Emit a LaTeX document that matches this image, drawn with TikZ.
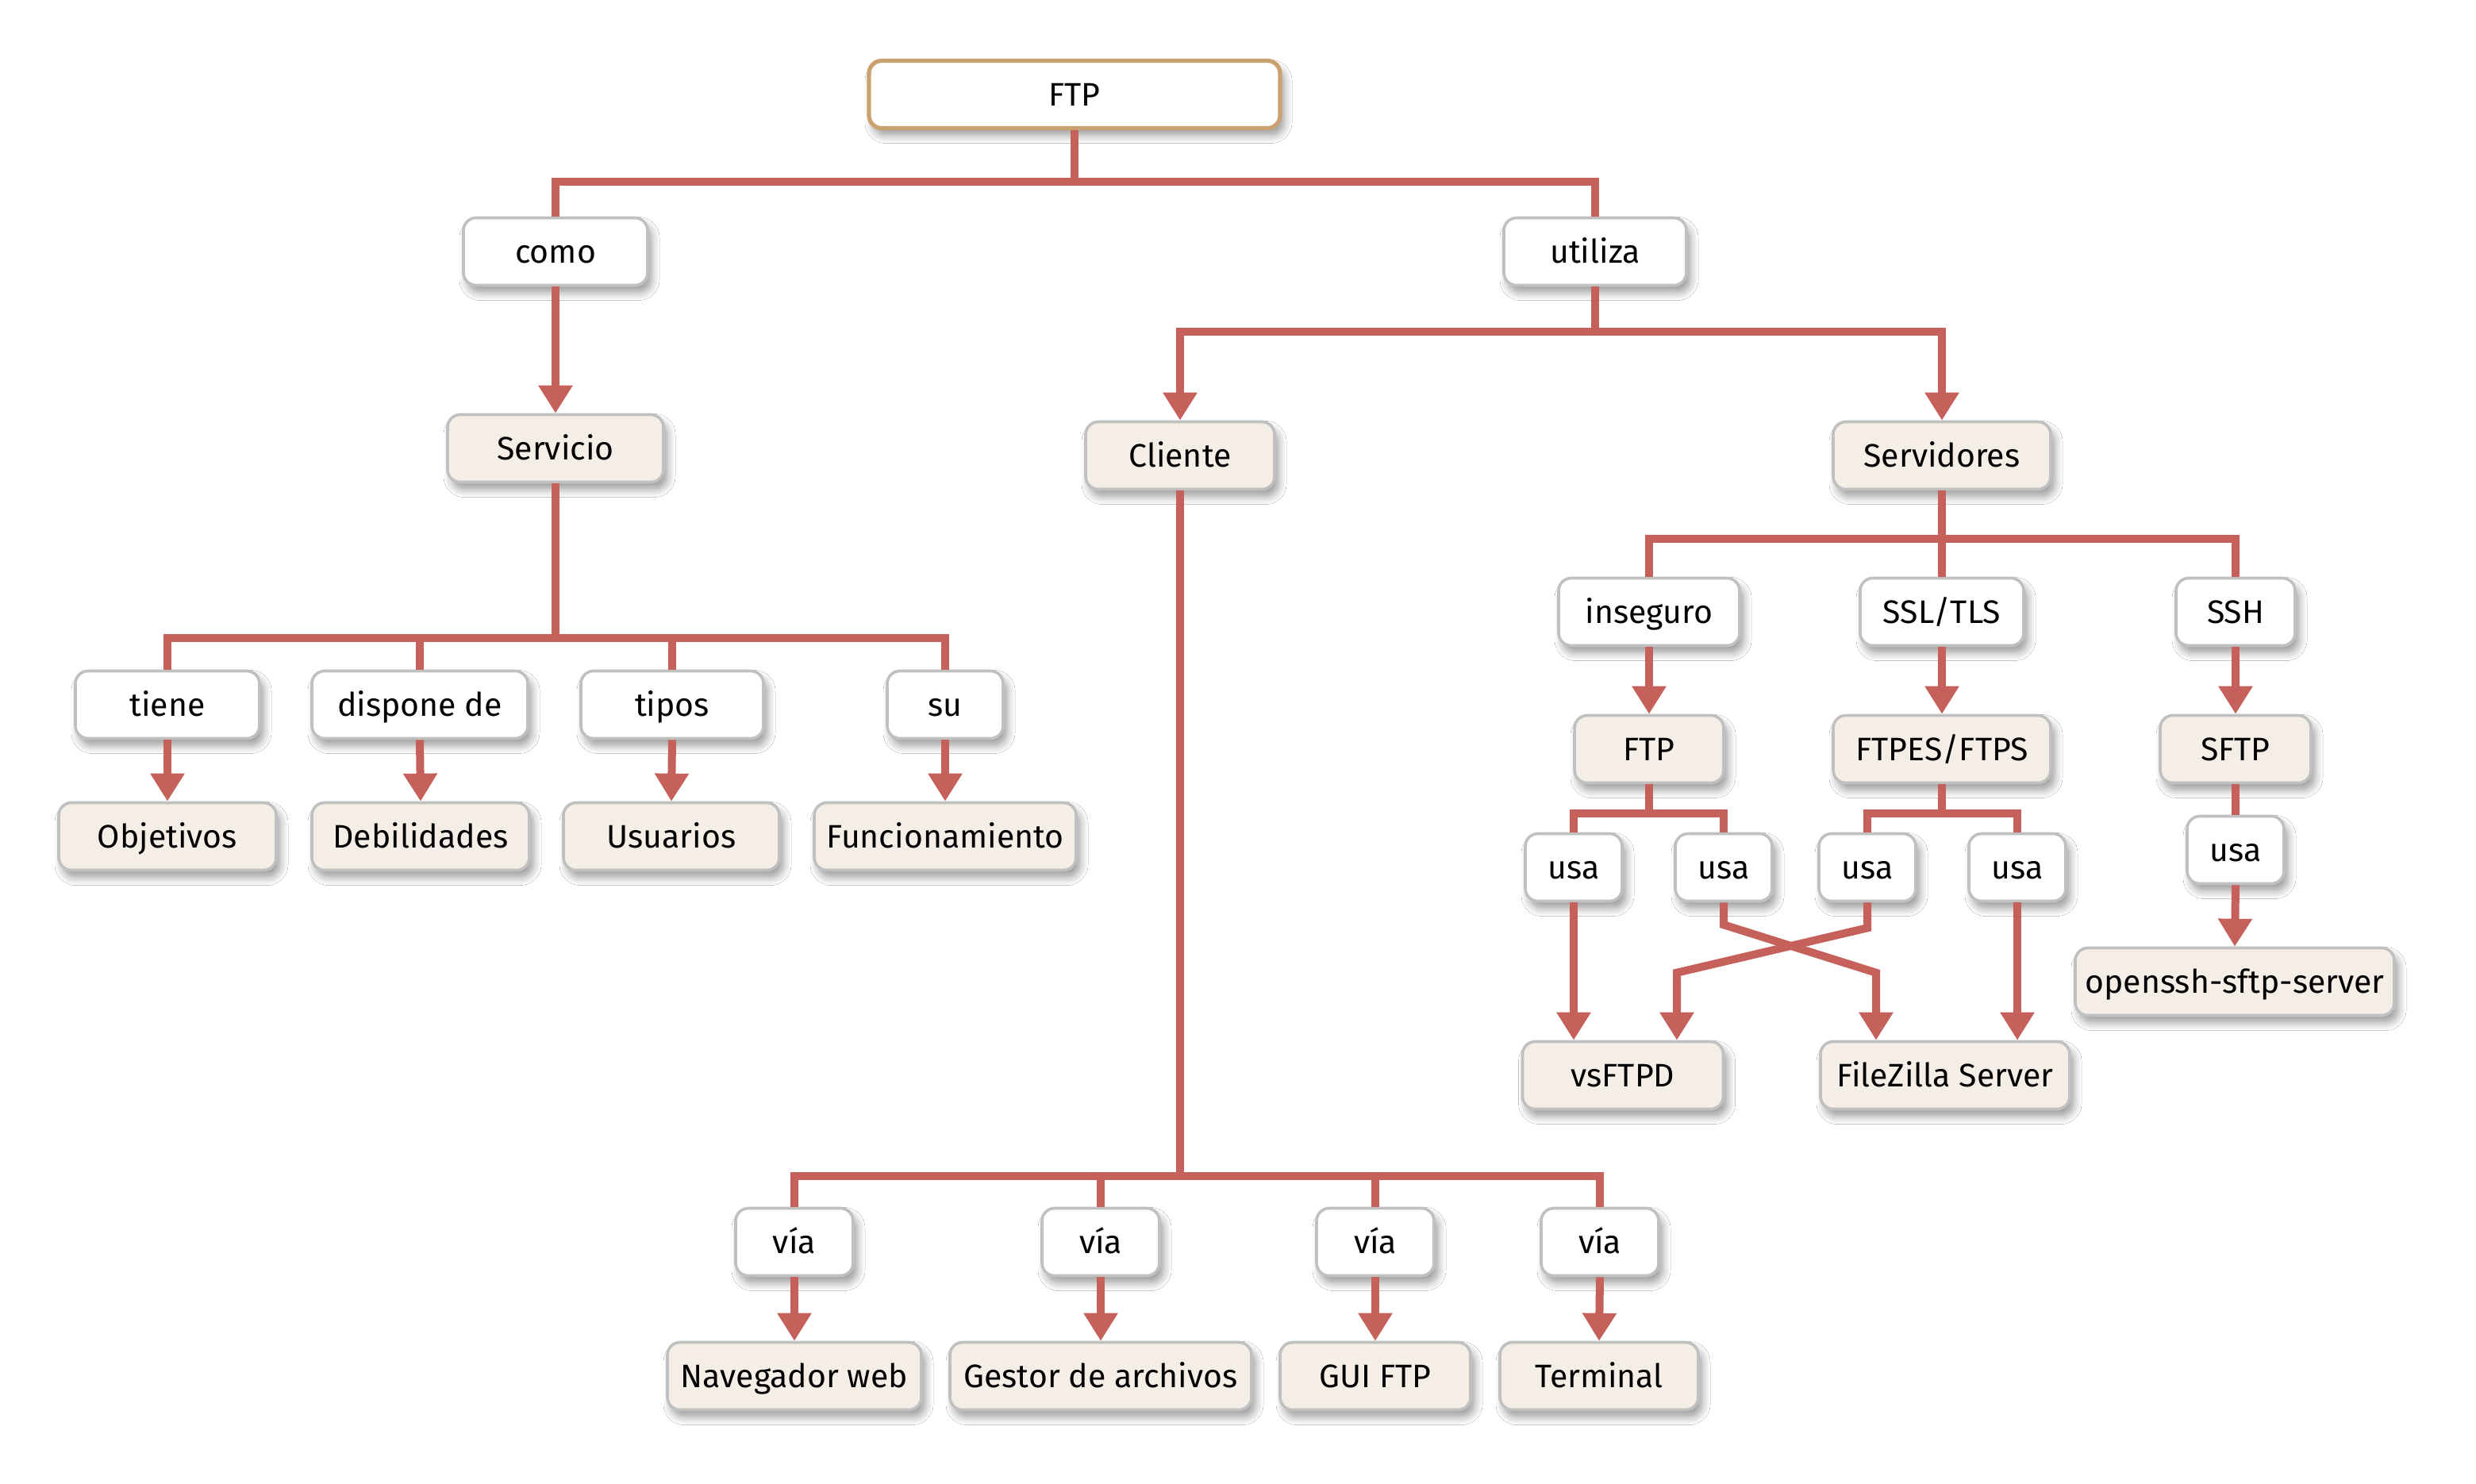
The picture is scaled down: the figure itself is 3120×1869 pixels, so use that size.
\documentclass[tikz,border=0pt]{standalone}
\usepackage{fontspec}
\setmainfont{Fira Sans}
\usetikzlibrary{arrows.meta,shadows.blur,calc}
\definecolor{connred}{HTML}{C6605A}
\definecolor{boxgray}{HTML}{C0C0C0}
\definecolor{beige}{HTML}{F4EEE7}
\definecolor{tan}{HTML}{C9A26F}
\tikzset{
  basebox/.style={rounded corners=8pt, line width=1.8pt, draw=boxgray, inner sep=0pt,
    minimum height=42.5pt, text height=14pt, text depth=0pt, font=\fontsize{20.5pt}{24pt}\selectfont,
    blur shadow={shadow xshift=2.5pt, shadow yshift=-4.5pt, shadow blur radius=5pt, shadow blur steps=8, shadow opacity=40}},
  concept/.style={basebox, fill=beige},
  linkbox/.style={basebox, fill=white},
  topbox/.style={basebox, fill=white, draw=tan, line width=2.6pt},
  conn/.style={draw=connred, line width=5pt},
  arr/.style={conn, -{Triangle[width=20.5pt,length=17.5pt]}},
}
\begin{document}
\begin{tikzpicture}[x=0.5pt,y=-0.5pt]
\fill[white] (0,0) rectangle (3120,1869);
\useasboundingbox (0,0) rectangle (3120,1869);

% levels
\coordinate (bftp) at (0,229);
\coordinate (butil) at (0,418);
\coordinate (bserv) at (0,804);
\coordinate (bsvr) at (0,679);
\coordinate (bftpb) at (0,1025);
\coordinate (bcli) at (0,1482);

% nodes
\node[topbox, minimum width=259pt] (ftp) at (1354,119) {FTP};
\node[linkbox, minimum width=116pt] (como) at (700,317) {como};
\node[linkbox, minimum width=115pt] (utiliza) at (2010,317) {utiliza};
\node[concept, minimum width=136pt] (servicio) at (700,565) {Servicio};
\node[concept, minimum width=119pt] (cliente) at (1487,574) {Cliente};
\node[concept, minimum width=137pt] (servidores) at (2447,574) {Servidores};

\node[linkbox, minimum width=116pt] (tiene) at (211,888) {tiene};
\node[linkbox, minimum width=136pt] (dispone) at (529,888) {dispone de};
\node[linkbox, minimum width=115pt] (tipos) at (847,888) {tipos};
\node[linkbox, minimum width=73pt] (su) at (1191,888) {su};
\node[concept, minimum width=137pt] (objetivos) at (211,1054) {Objetivos};
\node[concept, minimum width=137pt] (debilidades) at (530,1054) {Debilidades};
\node[concept, minimum width=136pt] (usuarios) at (846,1054) {Usuarios};
\node[concept, minimum width=165pt] (funcionamiento) at (1191,1054) {Funcionamiento};

\node[linkbox, minimum width=114pt] (inseguro) at (2078,771) {inseguro};
\node[linkbox, minimum width=103pt] (ssltls) at (2447,771) {SSL/TLS};
\node[linkbox, minimum width=75pt] (ssh) at (2817,771) {SSH};
\node[concept, minimum width=94pt] (ftpb) at (2078,944) {FTP};
\node[concept, minimum width=137pt] (ftpes) at (2447,944) {FTPES/FTPS};
\node[concept, minimum width=95pt] (sftp) at (2817,944) {SFTP};
\node[linkbox, minimum width=61pt] (usa1) at (1983,1093) {usa};
\node[linkbox, minimum width=61pt] (usa2) at (2172,1093) {usa};
\node[linkbox, minimum width=61pt] (usa3) at (2353,1093) {usa};
\node[linkbox, minimum width=61pt] (usa4) at (2542,1093) {usa};
\node[linkbox, minimum width=61pt] (usa5) at (2817,1071) {usa};
\node[concept, minimum width=201pt] (openssh) at (2816,1237) {openssh-sftp-server};
\node[concept, minimum width=126.5pt] (vsftpd) at (2045,1355) {vsFTPD};
\node[concept, minimum width=157pt] (filezilla) at (2451,1355) {FileZilla Server};

\node[linkbox, minimum width=74pt] (via1) at (1001,1565) {vía};
\node[linkbox, minimum width=74pt] (via2) at (1387,1565) {vía};
\node[linkbox, minimum width=74pt] (via3) at (1733,1565) {vía};
\node[linkbox, minimum width=74pt] (via4) at (2016,1565) {vía};
\node[concept, minimum width=160pt] (navegador) at (1001,1734) {Navegador web};
\node[concept, minimum width=190pt] (gestor) at (1387,1734) {Gestor de archivos};
\node[concept, minimum width=120pt] (gui) at (1733,1734) {GUI FTP};
\node[concept, minimum width=125pt] (terminal) at (2015,1734) {Terminal};

% connectors: top
\draw[conn] (ftp.south) -- (ftp.south |- bftp);
\draw[conn] (como.north) -- (como.north |- bftp) -- (utiliza.north |- bftp) -- (utiliza.north);
\draw[arr] (como.south) -- (servicio.north);

% utiliza
\draw[conn] (utiliza.south) -- (utiliza.south |- butil);
\draw[arr] (utiliza.south |- butil) -| (cliente.north);
\draw[arr] (utiliza.south |- butil) -| (servidores.north);

% servicio
\draw[conn] (servicio.south) -- (servicio.south |- bserv);
\draw[conn] (tiene.north) -- (tiene.north |- bserv) -- (su.north |- bserv) -- (su.north);
\draw[conn] (dispone.north) -- (dispone.north |- bserv);
\draw[conn] (tipos.north) -- (tipos.north |- bserv);
\draw[arr] (tiene.south) -- (objetivos.north);
\draw[arr] (dispone.south) -- (debilidades.north);
\draw[arr] (tipos.south) -- (usuarios.north);
\draw[arr] (su.south) -- (funcionamiento.north);

% servidores
\draw[conn] (servidores.south) -- (servidores.south |- bsvr);
\draw[conn] (inseguro.north) -- (inseguro.north |- bsvr) -- (ssh.north |- bsvr) -- (ssh.north);
\draw[conn] (ssltls.north) -- (ssltls.north |- bsvr);
\draw[arr] (inseguro.south) -- (ftpb.north);
\draw[arr] (ssltls.south) -- (ftpes.north);
\draw[arr] (ssh.south) -- (sftp.north);

% FTP / FTPES branches
\draw[conn] (ftpb.south) -- (ftpb.south |- bftpb);
\draw[conn] (usa1.north) -- (usa1.north |- bftpb) -- (usa2.north |- bftpb) -- (usa2.north);
\draw[conn] (ftpes.south) -- (ftpes.south |- bftpb);
\draw[conn] (usa3.north) -- (usa3.north |- bftpb) -- (usa4.north |- bftpb) -- (usa4.north);
\draw[arr] (usa1.south) -- (usa1.south |- vsftpd.north);
\draw[arr] (usa4.south) -- (usa4.south |- filezilla.north);
\draw[arr] (usa2.south) -- ++(0,28) -- ($(filezilla.north)+(-87,-85)$) -- ($(filezilla.north)+(-87,0)$);
\draw[arr] (usa3.south) -- ++(0,32) -- ($(vsftpd.north)+(68,-85)$) -- ($(vsftpd.north)+(68,0)$);

% SSH branch
\draw[conn] (sftp.south) -- (usa5.north);
\draw[arr] (usa5.south) -- (openssh.north);

% cliente
\draw[conn] (cliente.south) -- (cliente.south |- bcli);
\draw[conn] (via1.north) -- (via1.north |- bcli) -- (via4.north |- bcli) -- (via4.north);
\draw[conn] (via2.north) -- (via2.north |- bcli);
\draw[conn] (via3.north) -- (via3.north |- bcli);
\draw[arr] (via1.south) -- (navegador.north);
\draw[arr] (via2.south) -- (gestor.north);
\draw[arr] (via3.south) -- (gui.north);
\draw[arr] (via4.south) -- (terminal.north);
\end{tikzpicture}
\end{document}
